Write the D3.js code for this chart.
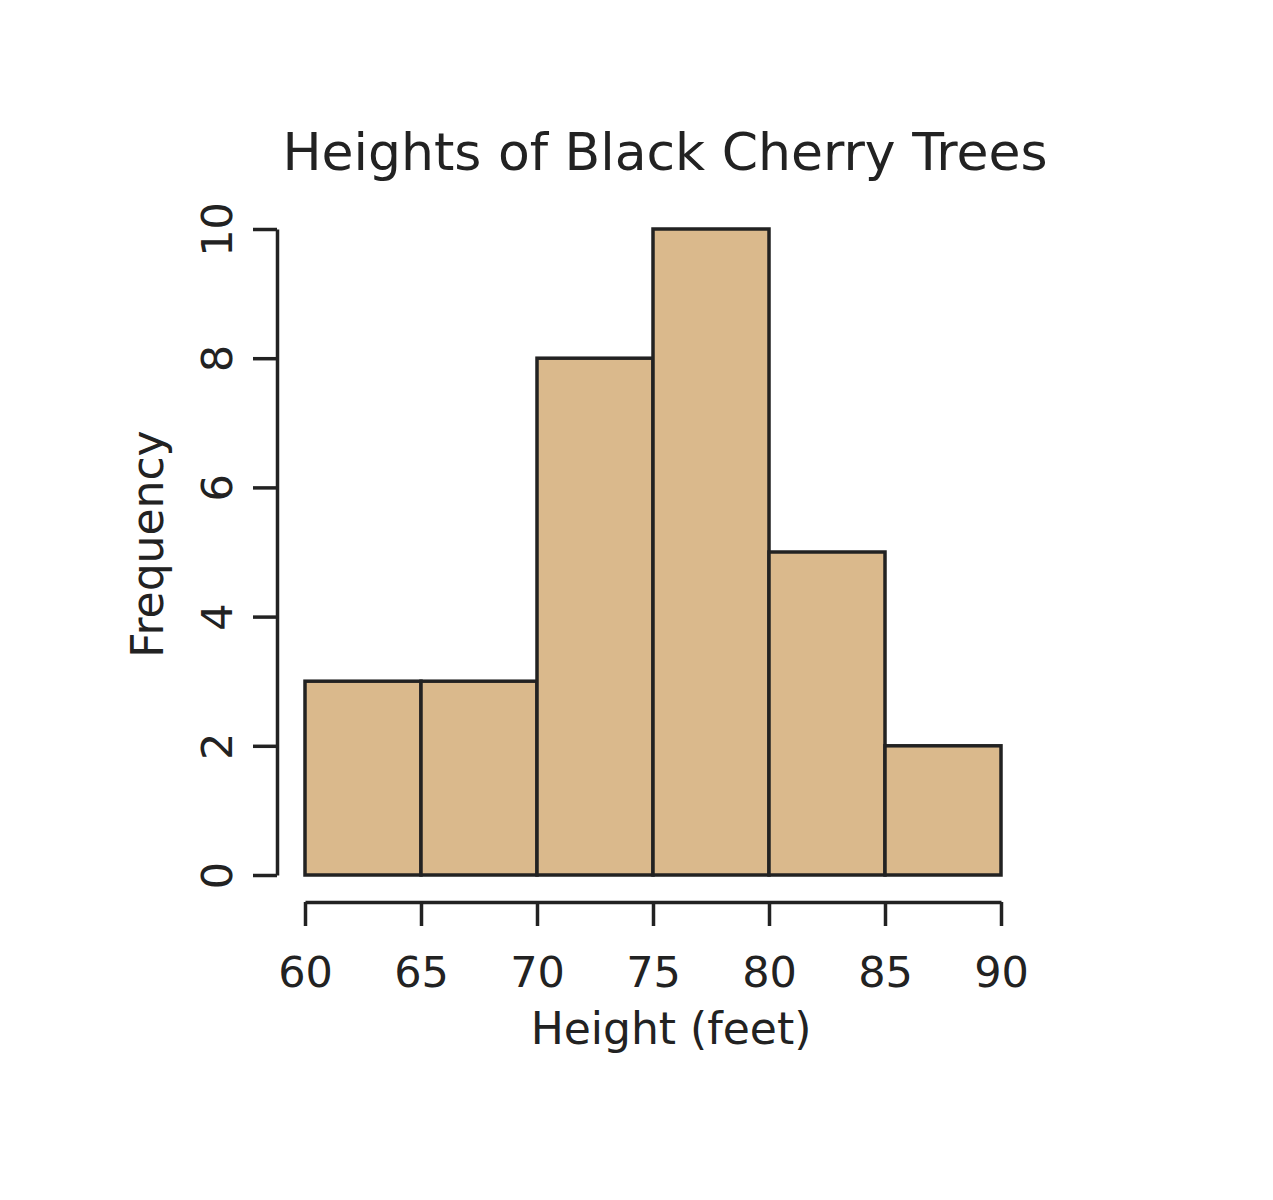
<!DOCTYPE html>
<html>
<head>
<meta charset="utf-8">
<script src="https://cdn.jsdelivr.net/npm/d3@7"></script>
<style>
  body { margin: 0; background: #fff; }
  text { font-family: "DejaVu Sans", sans-serif; fill: #222; }
</style>
</head>
<body>
<svg id="chart"></svg>
<script>
const binStarts = [60, 65, 70, 75, 80, 85];
const binEnds = [65, 70, 75, 80, 85, 90];
const counts = [3, 3, 8, 10, 5, 2];
const xTicks = [60, 65, 70, 75, 80, 85, 90];
const yTicks = [0, 2, 4, 6, 8, 10];

const width = 1273, height = 1200;
const svg = d3.select("#chart").attr("width", width).attr("height", height);

const x = d3.scaleLinear().domain([60, 90]).range([305, 1001]);
const y = d3.scaleLinear().domain([0, 10]).range([875, 229]);

// bars
svg.selectAll("rect.bar")
  .data(counts)
  .enter()
  .append("rect")
  .attr("class", "bar")
  .attr("x", (d, i) => x(binStarts[i]))
  .attr("y", d => y(d))
  .attr("width", (d, i) => x(binEnds[i]) - x(binStarts[i]))
  .attr("height", d => y(0) - y(d))
  .attr("fill", "#dab98c")
  .attr("stroke", "#222")
  .attr("stroke-width", 3.5);

// x axis
const xAxis = svg.append("g")
  .attr("transform", "translate(0,902)")
  .call(d3.axisBottom(x).tickValues(xTicks).tickSize(24).tickPadding(30).tickSizeOuter(0));
xAxis.select(".domain").attr("stroke", "#222").attr("stroke-width", 3.5);
xAxis.selectAll(".tick line").attr("stroke", "#222").attr("stroke-width", 3.5);
xAxis.selectAll(".tick text").style("font-size", "43px").attr("fill", "#222");
xAxis.selectAll("text").style("font-family", "DejaVu Sans");

// y axis
const yAxis = svg.append("g")
  .attr("transform", "translate(277,0)")
  .call(d3.axisLeft(y).tickValues(yTicks).tickSize(24).tickSizeOuter(0).tickFormat(d3.format("d")));
yAxis.select(".domain").attr("stroke", "#222").attr("stroke-width", 3.5);
yAxis.selectAll(".tick line").attr("stroke", "#222").attr("stroke-width", 3.5);
yAxis.selectAll(".tick text")
  .attr("x", 0).attr("dy", 0)
  .attr("transform", "translate(-45,0) rotate(-90)")
  .attr("text-anchor", "middle")
  .style("font-size", "43px")
  .style("font-family", "DejaVu Sans")
  .attr("fill", "#222");

// title and labels
svg.append("text")
  .attr("x", 665).attr("y", 170)
  .attr("text-anchor", "middle")
  .style("font-size", "52px")
  .text("Heights of Black Cherry Trees");

svg.append("text")
  .attr("x", 671).attr("y", 1044)
  .attr("text-anchor", "middle")
  .style("font-size", "44px")
  .text("Height (feet)");

svg.append("text")
  .attr("transform", "translate(163,544) rotate(-90)")
  .attr("text-anchor", "middle")
  .style("font-size", "44px")
  .text("Frequency");
</script>
</body>
</html>
